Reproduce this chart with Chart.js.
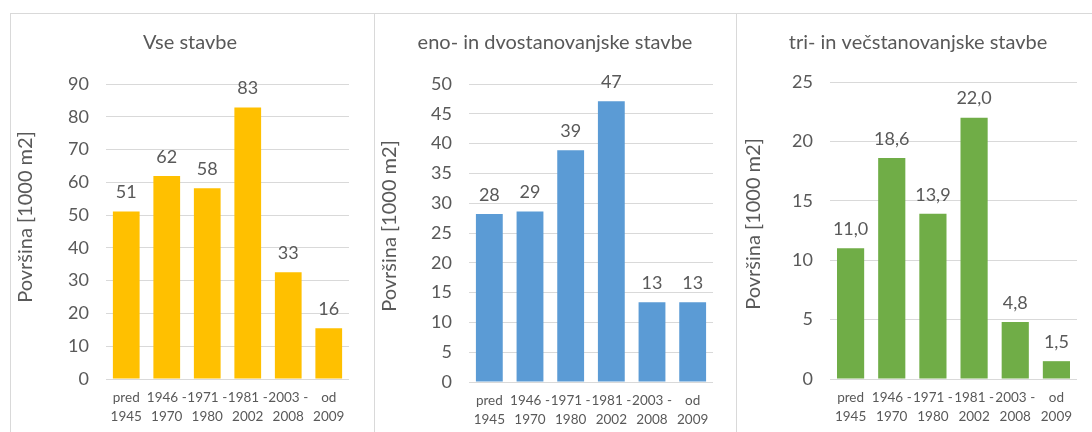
<!DOCTYPE html>
<html><head><meta charset="utf-8">
<script src="https://cdn.jsdelivr.net/npm/chart.js@4"></script>
<style>
html,body{margin:0;padding:0;background:#fff;width:1092px;height:432px;overflow:hidden;}
.panel{position:absolute;top:13px;height:419px;border-top:1px solid #D9D9D9;border-left:1px solid #D9D9D9;box-sizing:border-box;}
.panel canvas{position:absolute;left:0;top:0;}
</style></head><body>
<div class="panel" style="left:10px;width:364px"><canvas id="c1" width="363" height="418"></canvas></div>
<div class="panel" style="left:374px;width:362px"><canvas id="c2" width="361" height="418"></canvas></div>
<div class="panel" style="left:736px;width:356px;border-right:none"><canvas id="c3" width="355" height="418"></canvas></div>
<script>
// ---- data ----
const categories = [["pred","1945"],["1946 -","1970"],["1971 -","1980"],["1981 -","2002"],["2003 -","2008"],["od","2009"]];
const titles = ["Vse stavbe","eno- in dvostanovanjske stavbe","tri- in večstanovanjske stavbe"];
const axisTitle = "Površina [1000 m2]";
const vseValues = [51.1, 61.9, 58.2, 82.8, 32.6, 15.5];
const enoDvoValues = [28.2, 28.6, 38.9, 47.1, 13.4, 13.4];
const triVecValues = [11.0, 18.6, 13.9, 22.0, 4.8, 1.5];
const yMax = [90, 50, 25];
const yStep = [10, 5, 5];
const labelDecimals = [0, 0, 1];
const colors = ["#FFC000", "#5B9BD5", "#70AD47"];

const FONT = "Lato";
const TXT = "#595959";
const GRID = "#D9D9D9";

const panelText = {
  id: 'panelText',
  afterDatasetsDraw(chart, args, opts) {
    const ctx = chart.ctx;
    const meta = chart.getDatasetMeta(0);
    const dec = opts.decimals || 0;
    ctx.save();
    ctx.fillStyle = TXT;
    ctx.textAlign = 'center';
    ctx.textBaseline = 'middle';
    // value labels above bars
    ctx.font = "18px " + FONT;
    meta.data.forEach((bar, i) => {
      const v = chart.data.datasets[0].data[i];
      const s = dec === 0 ? String(Math.round(v)) : v.toFixed(dec).replace('.', ',');
      ctx.fillText(s, bar.x, bar.y - opts.gap);
    });
    // chart title
    ctx.font = "20px " + FONT;
    ctx.fillText(opts.title, opts.tX, opts.tY);
    // rotated value-axis title
    ctx.translate(opts.axX, opts.axY);
    ctx.rotate(-Math.PI / 2);
    ctx.fillText(axisTitle, 0, 0);
    ctx.restore();
  }
};

function makeChart(id, idx, values, lay) {
  new Chart(document.getElementById(id), {
    type: 'bar',
    data: {
      labels: categories,
      datasets: [{ data: values, backgroundColor: colors[idx], barPercentage: 0.66, categoryPercentage: 1.0 }]
    },
    plugins: [panelText],
    options: {
      responsive: false,
      animation: false,
      layout: { padding: { left: 0, right: lay.right, top: lay.top, bottom: 0 } },
      plugins: {
        legend: { display: false },
        tooltip: { enabled: false },
        title: { display: false },
        panelText: { decimals: labelDecimals[idx], gap: 19, title: titles[idx], tX: lay.tX, tY: 29, axX: lay.axX, axY: lay.axY }
      },
      scales: {
        x: {
          grid: { display: false, drawTicks: false },
          border: { display: false },
          ticks: { color: TXT, font: { family: FONT, size: 13.5, lineHeight: 1.35 }, padding: 10, maxRotation: 0, minRotation: 0, autoSkip: false },
          afterFit: s => { s.height = lay.xh; }
        },
        y: {
          min: 0, max: yMax[idx],
          grid: { color: GRID, drawTicks: false, lineWidth: 1 },
          border: { display: false },
          ticks: { stepSize: yStep[idx], color: TXT, font: { family: FONT, size: 18 }, padding: 17 },
          title: { display: false },
          afterFit: s => { s.width = lay.yw; }
        }
      }
    }
  });
}

makeChart('c1', 0, vseValues, { right: 25, top: 70, yw: 95, xh: 53, tX: 179, axX: 15, axY: 203 });
makeChart('c2', 1, enoDvoValues, { right: 23, top: 70, yw: 94, xh: 50, tX: 180, axX: 15, axY: 212 });
makeChart('c3', 2, triVecValues, { right: 15, top: 68, yw: 93, xh: 53, tX: 181, axX: 17, axY: 210 });
</script>
</body></html>
